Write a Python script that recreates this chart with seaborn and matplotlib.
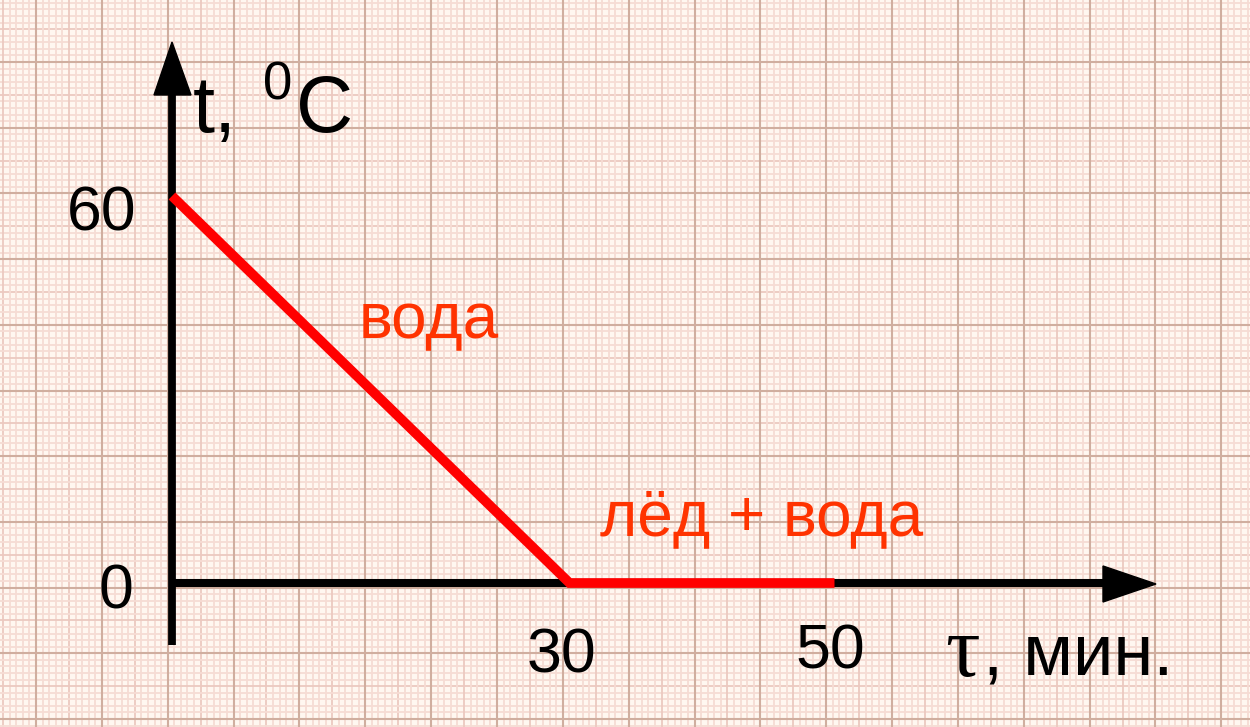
import numpy as np
import pandas as pd
import matplotlib.pyplot as plt
import seaborn as sns
from matplotlib.patches import Polygon

# cooling curve: water 60 C -> 0 C in 30 min, then ice + water at 0 C till 50 min
time_min = [0, 30, 50]
temp_c = [60, 0, 0]
x_ticks = [30, 50]
y_ticks = [0, 60]
label_water = "вода"
label_mix = "лёд + вода"

plt.rcParams["font.family"] = ["Liberation Sans", "DejaVu Sans"]

W, H = 1250, 727
fig = plt.figure(figsize=(W / 100, H / 100), dpi=100)

# graph paper background, in pixel coords
bg = fig.add_axes([0, 0, 1, 1], zorder=0)
bg.set_xlim(0, W)
bg.set_ylim(H, 0)
bg.axis("off")
bg.add_patch(plt.Rectangle((0, 0), W, H, color="#fff7f0", zorder=0))
step_x, step_y = 65.85, 65.7
x0, y0 = 36 - 6 * step_x, 62 - 2 * step_y
for i in range(0, 300):
    xv = x0 + i * step_x / 10
    yv = y0 + i * step_y / 10
    if i % 10 == 0:
        c, lw = "#d0ae9f", 1.5
    elif i % 5 == 0:
        c, lw = "#ecc9c0", 1.3
    else:
        c, lw = "#f6dcd4", 1.3
    if -5 < xv < W + 5:
        bg.axvline(xv, color=c, lw=lw, zorder=1 + (i % 10 == 0))
    if -5 < yv < H + 5:
        bg.axhline(yv, color=c, lw=lw, zorder=1 + (i % 10 == 0))

# axes arrows (pixel coords)
bg.plot([172, 172], [645, 90], color="black", lw=5.6, solid_capstyle="butt", zorder=5)
bg.add_patch(Polygon([(172, 42), (154, 95), (191, 95)], closed=True, color="black", zorder=5))
bg.plot([172, 1108], [583, 583], color="black", lw=5.8, solid_capstyle="butt", zorder=5)
bg.add_patch(Polygon([(1156, 584), (1103, 566), (1103, 602)], closed=True, color="black", zorder=5))

# data axes mapped onto the same pixels
ax = fig.add_axes([0, 0, 1, 1], zorder=2)
ax.patch.set_alpha(0)
px_x, px_y = 13.25, 6.45
ax.set_xlim(-172 / px_x, (W - 172) / px_x)
ax.set_ylim(-(H - 583) / px_y, 583 / px_y)
ax.axis("off")

df = pd.DataFrame({"time": time_min, "temp": temp_c})
sns.lineplot(data=df, x="time", y="temp", color="#ff0000", lw=7, ax=ax,
             sort=False, solid_capstyle="butt", solid_joinstyle="miter")

# tick labels
tick_fs = 45
ax.text(x_ticks[0] - 0.6, -13.8, str(x_ticks[0]), fontsize=tick_fs, ha="center", va="baseline")
ax.text(x_ticks[1] - 0.3, -13.2, str(x_ticks[1]), fontsize=tick_fs, ha="center", va="baseline")
ax.text(-2.95, y_ticks[0] - 3.9, str(y_ticks[0]), fontsize=tick_fs, ha="right", va="baseline")
ax.text(-2.65, y_ticks[1] - 5.4, str(y_ticks[1]), fontsize=tick_fs, ha="right", va="baseline")

# curve labels
ax.text(14.05, 38.0, label_water, fontsize=46, color="#ff3300", ha="left", va="baseline")
ax.text(32.3, 7.4, label_mix, fontsize=46, color="#ff3300", ha="left", va="baseline")

# axis titles (pixel coords)
bg.text(193, 132, "t,", fontsize=57, ha="left", va="baseline", zorder=6)
bg.text(263, 99, "0", fontsize=38, ha="left", va="baseline", zorder=6)
bg.text(296, 132, "C", fontsize=57, ha="left", va="baseline", zorder=6)
bg.text(945, 676, "τ", fontsize=62, ha="left", va="baseline", zorder=6,
        family=["Liberation Serif", "DejaVu Serif"])
bg.text(983, 675, ", мин.", fontsize=52, ha="left", va="baseline", zorder=6)

fig.savefig("out.png", dpi=100)
